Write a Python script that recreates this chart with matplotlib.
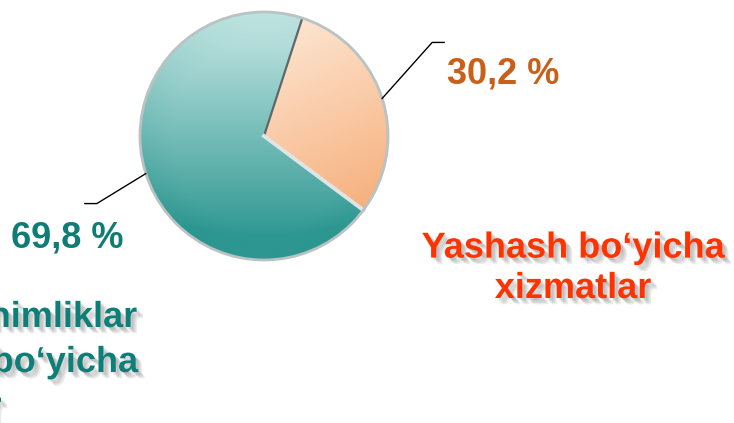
import matplotlib.pyplot as plt
import matplotlib.patheffects as pe
import numpy as np

plt.rcParams['font.family'] = ['Liberation Sans', 'DejaVu Sans']

# ulushlar (%)
shares = [30.2, 69.8]
pct_labels = ['30,2 %', '69,8 %']
pct_colors = ['#c8601a', '#0f7d73']
cat_right = 'Yashash bo‘yicha\nxizmatlar'
cat_left = ['Oziq-ovqat va ichimliklar', 'bo‘yicha', 'xizmatlar']

W, H = 734, 423
fig = plt.figure(figsize=(W / 100, H / 100), dpi=100)
ax = fig.add_axes([0, 0, 1, 1])

cx, cy, r = 264, H - 136, 124
start = 72

wedges, _ = ax.pie(shares, startangle=start, counterclock=False,
                   center=(cx, cy), radius=r, colors=['#f9c49a', '#6fb9b3'],
                   wedgeprops=dict(linewidth=0))
ax.set_xlim(0, W)
ax.set_ylim(0, H)
ax.set_aspect('equal')
ax.axis('off')

# gradient fill clipped to each wedge
n = 300
gx, gy = np.meshgrid(np.linspace(0, 1, n), np.linspace(0, 1, n))  # gy: 0 bottom -> 1 top
ext = [cx - r, cx + r, cy - r, cy + r]
rad = np.hypot(gx - 0.5, gy - 0.5) * 2

def grad(c_light, c_dark, t):
    t = np.clip(t, 0, 1)[..., None]
    a = np.array(c_light) / 255
    b = np.array(c_dark) / 255
    return a * (1 - t) + b * t

# orange: light top -> deeper lower right
t_or = 0.75 * (1 - gy) + 0.35 * gx - 0.15
img_or = grad((254, 236, 220), (244, 158, 96), t_or)
# teal: light top -> dark bottom, rim a bit darker
t_te = 0.95 * (1 - gy) + 0.12 + 0.25 * np.clip(rad - 0.75, 0, 1)
img_te = grad((222, 244, 242), (44, 150, 144), t_te)

for w, img in zip(wedges, [img_or, img_te]):
    im = ax.imshow(img, extent=ext, origin='lower', zorder=2, interpolation='bilinear')
    im.set_clip_path(w)

# slice borders and rim
a0 = np.deg2rad(start)
a1 = np.deg2rad(start - shares[0] / 100 * 360)
ax.plot([cx, cx + r * np.cos(a0)], [cy, cy + r * np.sin(a0)], color='#5f6868', lw=1.6, zorder=3)
ax.plot([cx, cx + r * np.cos(a1)], [cy, cy + r * np.sin(a1)], color='#dfe4e4', lw=2.8, zorder=3)
ax.add_patch(plt.Circle((cx, cy), r, fill=False, ec='#b9c3c3', lw=2, zorder=4))

# leader lines and percentage labels
ang = start
for s, lab, col in zip(shares, pct_labels, pct_colors):
    mid = np.deg2rad(ang - s / 100 * 360 / 2)
    ang -= s / 100 * 360
    x0, y0 = cx + r * np.cos(mid), cy + r * np.sin(mid)
    side = np.sign(np.cos(mid))
    if side > 0:
        x1, y1 = x0 + 50, y0 + 56
    else:
        x1, y1 = x0 - 49, y0 - 30
    x2 = x1 + side * 12
    ax.plot([x0, x1, x2], [y0, y1, y1], color='black', lw=1, zorder=5)
    if side > 0:
        ax.text(x2 + 3, y1 - 32, lab, color=col, fontsize=26, fontweight='bold',
                ha='left', va='center')
    else:
        ax.text(x2 - 18, y1 - 34, lab, color=col, fontsize=26, fontweight='bold',
                ha='center', va='center')

# yumshoq soya
def soft_shadow():
    return [pe.SimplePatchShadow(offset=(d, -d), shadow_rgbFace='0.4', alpha=0.13)
            for d in (1.5, 2.5, 3.5, 4.5)] + [pe.Normal()]

ax.text(573, H - 298, cat_right, color='#ff3300', fontsize=26, fontweight='bold',
        ha='center', va='baseline', linespacing=1.2, path_effects=soft_shadow())

for txt, xr, yb in zip(cat_left, [137, 138, 1.5], [327, 372, 417]):
    ax.text(xr, H - yb, txt, color='#0e7f78', fontsize=26, fontweight='bold',
            ha='right', va='baseline', path_effects=soft_shadow())

fig.savefig('out.png', dpi=100)
